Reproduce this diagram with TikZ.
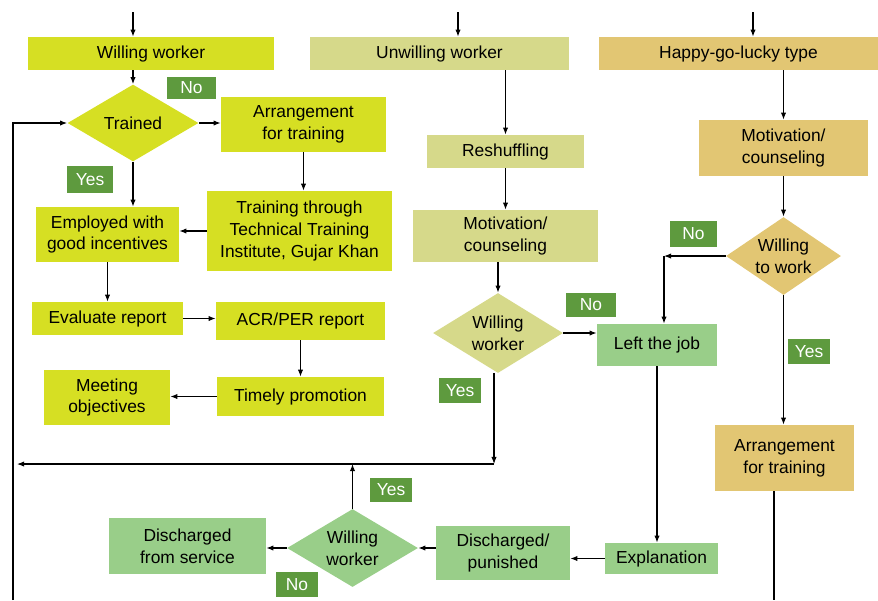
\documentclass[tikz,border=0pt]{standalone}
\usepackage{fontspec}
\setmainfont{Liberation Sans}
\usetikzlibrary{arrows.meta,shapes.geometric}
\definecolor{lime}{RGB}{214,223,35}
\definecolor{khaki}{RGB}{214,217,138}
\definecolor{gold}{RGB}{226,198,115}
\definecolor{mint}{RGB}{153,206,137}
\definecolor{tagg}{RGB}{94,154,62}

\begin{document}
\begin{tikzpicture}[
    x=0.02cm, y=-0.02cm,
    every node/.style={font=\fontsize{9.9}{12.3}\selectfont},
    box/.style={rectangle, align=center, inner sep=2pt},
    choice/.style={diamond, align=center, inner sep=0pt},
    tag/.style={rectangle, fill=tagg, text=white, inner sep=0pt},
    arr/.style={-{Latex[length=4pt,width=3pt]}, line width=0.6pt},
    plain/.style={line width=0.6pt}
]
    \useasboundingbox (0,0) rectangle (878,600);

    % Column heads
    \node[box, fill=lime, minimum width=4.92cm, minimum height=0.66cm] (ww) at (151,53.5) {Willing worker};
    \node[box, fill=khaki, minimum width=5.18cm, minimum height=0.66cm] (uw) at (439.5,53.5) {Unwilling worker};
    \node[box, fill=gold, minimum width=5.58cm, minimum height=0.66cm] (hg) at (738.5,53.5) {Happy-go-lucky type};

    % Willing worker branch
    \node[choice, fill=lime, aspect=1.7, minimum width=2.62cm, minimum height=1.54cm] (trained) at (133,123) {Trained};
    \node[box, fill=lime, minimum width=3.3cm, minimum height=1.1cm] (arr1) at (303.5,124.5) {Arrangement\\for training};
    \node[box, fill=lime, minimum width=2.86cm, minimum height=1.1cm] (emp) at (107.5,234.5) {Employed with\\good incentives};
    \node[box, fill=lime, minimum width=3.7cm, minimum height=1.6cm] (ttt) at (299.5,231) {Training through\\Technical Training\\Institute, Gujar Khan};
    \node[box, fill=lime, minimum width=3.02cm, minimum height=0.66cm] (eval) at (107.5,318.5) {Evaluate report};
    \node[box, fill=lime, minimum width=3.38cm, minimum height=0.76cm] (acr) at (300.5,321) {ACR/PER report};
    \node[box, fill=lime, minimum width=3.34cm, minimum height=0.78cm] (timely) at (300.5,396.5) {Timely promotion};
    \node[box, fill=lime, minimum width=2.52cm, minimum height=1.1cm] (meet) at (107,397.5) {Meeting\\objectives};

    % Unwilling worker branch
    \node[box, fill=khaki, minimum width=3.14cm, minimum height=0.66cm] (resh) at (505.5,151.5) {Reshuffling};
    \node[box, fill=khaki, minimum width=3.7cm, minimum height=1.04cm] (mot1) at (505.5,236) {Motivation/\\counseling};
    \node[choice, fill=khaki, aspect=1.63, minimum width=2.6cm, minimum height=1.6cm] (wwd) at (498,333) {Willing\\worker};
    \node[box, fill=mint, minimum width=2.4cm, minimum height=0.84cm] (left) at (657,345) {Left the job};
    \node[box, fill=mint, minimum width=2.26cm, minimum height=0.62cm] (expl) at (661.5,558.5) {Explanation};
    \node[box, fill=mint, minimum width=2.68cm, minimum height=1.08cm] (disp) at (503,553) {Discharged/\\punished};
    \node[choice, fill=mint, aspect=1.68, minimum width=2.62cm, minimum height=1.56cm] (wwb) at (352.5,548) {Willing\\worker};
    \node[box, fill=mint, minimum width=3.14cm, minimum height=1.12cm] (disc) at (187.5,546) {Discharged\\from service};

    % Happy-go-lucky branch
    \node[box, fill=gold, minimum width=3.38cm, minimum height=1.12cm] (mot2) at (783.5,148) {Motivation/\\counseling};
    \node[choice, fill=gold, aspect=1.47, minimum width=2.3cm, minimum height=1.56cm] (wtw) at (783.5,256) {Willing\\to work};
    \node[box, fill=gold, minimum width=2.78cm, minimum height=1.32cm] (arr2) at (784.5,458) {Arrangement\\for training};

    % Yes / No tags
    \node[tag, minimum width=0.98cm, minimum height=0.44cm] (no1) at (191.5,88) {No};
    \node[tag, minimum width=0.92cm, minimum height=0.54cm] (yes1) at (90,179.5) {Yes};
    \node[tag, minimum width=1cm, minimum height=0.48cm] (no2) at (591,305) {No};
    \node[tag, minimum width=0.84cm, minimum height=0.5cm] (yes2) at (460,390.5) {Yes};
    \node[tag, minimum width=0.94cm, minimum height=0.52cm] (no3) at (693.5,234) {No};
    \node[tag, minimum width=0.84cm, minimum height=0.5cm] (yes3) at (809,351.5) {Yes};
    \node[tag, minimum width=0.84cm, minimum height=0.48cm] (yes4) at (391,490) {Yes};
    \node[tag, minimum width=0.84cm, minimum height=0.5cm] (no4) at (297,584.5) {No};

    % Free ends
    \coordinate (in1) at (133,12);
    \coordinate (in2) at (458,12);
    \coordinate (in3) at (753,12);
    \coordinate (loop) at (13,600);
    \coordinate (ret) at (494,464);
    \coordinate (retend) at (17,464);
    \coordinate (bend) at (664,256);
    \coordinate (out) at (774,600);

    % Connectors
    \draw[arr] (in1) -- (in1 |- ww.north);
    \draw[arr] (in2) -- (in2 |- uw.north);
    \draw[arr] (in3) -- (in3 |- hg.north);

    \draw[arr] (trained |- ww.south) -- (trained.north);
    \draw[arr] (trained.east) -- (trained.east -| arr1.west);
    \draw[arr] (arr1.south) -- (arr1.south |- ttt.north);
    \draw[arr] (ttt.west) -- (ttt.west -| emp.east);
    \draw[arr] (trained.south) -- (trained.south |- emp.north);
    \draw[arr] (emp.south) -- (eval.north);
    \draw[arr] (eval.east) -- (eval.east -| acr.west);
    \draw[arr] (acr.south) -- (timely.north);
    \draw[arr] (timely.west) -- (timely.west -| meet.east);
    \draw[arr] (loop) |- (trained.west);

    \draw[arr] (resh.north |- uw.south) -- (resh.north);
    \draw[arr] (resh.south) -- (mot1.north);
    \draw[arr] (wwd |- mot1.south) -- (wwd.north);
    \draw[arr] (wwd.east) -- (wwd.east -| left.west);
    \draw[arr] (ret |- wwd.south) -- (ret);
    \draw[arr] (ret) -- (retend);
    \draw[arr] (wwb.north) -- (wwb.north |- ret);
    \draw[arr] (left.south) -- (left.south |- expl.north);
    \draw[arr] (expl.west) -- (expl.west -| disp.east);
    \draw[arr] (wwb.east -| disp.west) -- (wwb.east);
    \draw[arr] (wwb.west) -- (wwb.west -| disc.east);

    \draw[arr] (mot2.north |- hg.south) -- (mot2.north);
    \draw[arr] (mot2.south) -- (wtw.north);
    \draw[arr] (wtw.west) -- (bend);
    \draw[arr] (bend) -- (bend |- left.north);
    \draw[arr] (wtw.south) -- (wtw.south |- arr2.north);
    \draw[plain] (arr2.south -| out) -- (out);
\end{tikzpicture}
\end{document}
